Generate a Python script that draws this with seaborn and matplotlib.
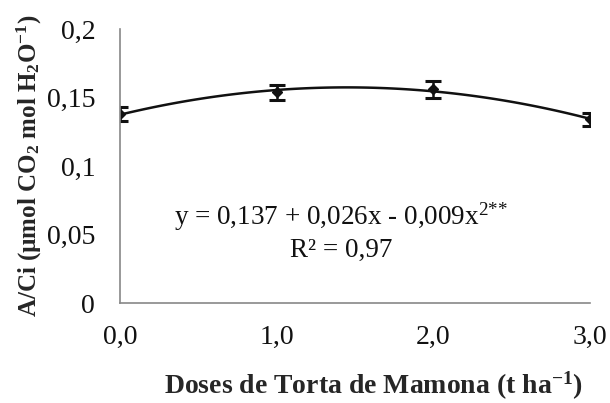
import matplotlib
matplotlib.use("Agg")
import matplotlib.pyplot as plt
import seaborn as sns
import numpy as np
import pandas as pd

doses = [0.0, 1.0, 2.0, 3.0]
aci = [0.138, 0.154, 0.156, 0.134]
err = [0.005, 0.0055, 0.006, 0.005]
xtick_vals = [0.0, 1.0, 2.0, 3.0]
xtick_labels = ["0,0", "1,0", "2,0", "3,0"]
ytick_vals = [0, 0.05, 0.1, 0.15, 0.2]
ytick_labels = ["0", "0,05", "0,1", "0,15", "0,2"]

sns.set_style("white")
plt.rcParams["font.family"] = ["Liberation Serif", "DejaVu Serif"]
plt.rcParams["mathtext.fontset"] = "custom"
plt.rcParams["mathtext.rm"] = "Liberation Serif"
plt.rcParams["mathtext.bf"] = "Liberation Serif:bold"
plt.rcParams["mathtext.it"] = "Liberation Serif:italic"
plt.rcParams["mathtext.default"] = "rm"

df = pd.DataFrame({"dose": doses, "aci": aci})

fig = plt.figure(figsize=(6.1, 4.03), dpi=100)
ax = fig.add_axes([0.197, 0.248, 0.77, 0.68])

sns.regplot(data=df, x="dose", y="aci", order=2, ci=None, scatter=False,
            ax=ax, line_kws=dict(color="#111111", lw=1.8))
ax.errorbar(doses, aci, yerr=err, fmt="D", color="#111111", ms=5,
            capsize=6, capthick=2.2, elinewidth=1.8)

ax.set_xlim(0, 3)
ax.set_ylim(0, 0.2)
ax.set_xticks(xtick_vals)
ax.set_xticklabels(xtick_labels)
ax.set_yticks(ytick_vals)
ax.set_yticklabels(ytick_labels)
ax.tick_params(axis="both", labelsize=20, colors="#888888", labelcolor="#111111",
               direction="out", length=6, width=1)
ax.tick_params(axis="x", pad=10)
ax.tick_params(axis="y", pad=12)
for s in ["top", "right"]:
    ax.spines[s].set_visible(False)
for s in ["left", "bottom"]:
    ax.spines[s].set_color("#888888")
    ax.spines[s].set_linewidth(1.2)

ax.set_xlabel("Doses de Torta de Mamona (t ha$^\\mathbf{-1}$)", fontsize=20,
              fontweight="bold")
ax.xaxis.set_label_coords(0.54, -0.242)
ax.set_ylabel("A/Ci (µmol CO$_\\mathbf{2}$ mol H$_\\mathbf{2}$O$^\\mathbf{-1}$)",
              fontsize=18, fontweight="bold")
ax.yaxis.set_label_coords(-0.163, 0.5)

ax.text(1.41, 0.0628, "y = 0,137 + 0,026x - 0,009x$^{2{*}{*}}$", fontsize=19.5,
        ha="center", va="center", color="#111111")
ax.text(1.41, 0.0387, "R² = 0,97", fontsize=19.5, ha="center", va="center",
        color="#111111")

fig.savefig("out.png", dpi=100)
